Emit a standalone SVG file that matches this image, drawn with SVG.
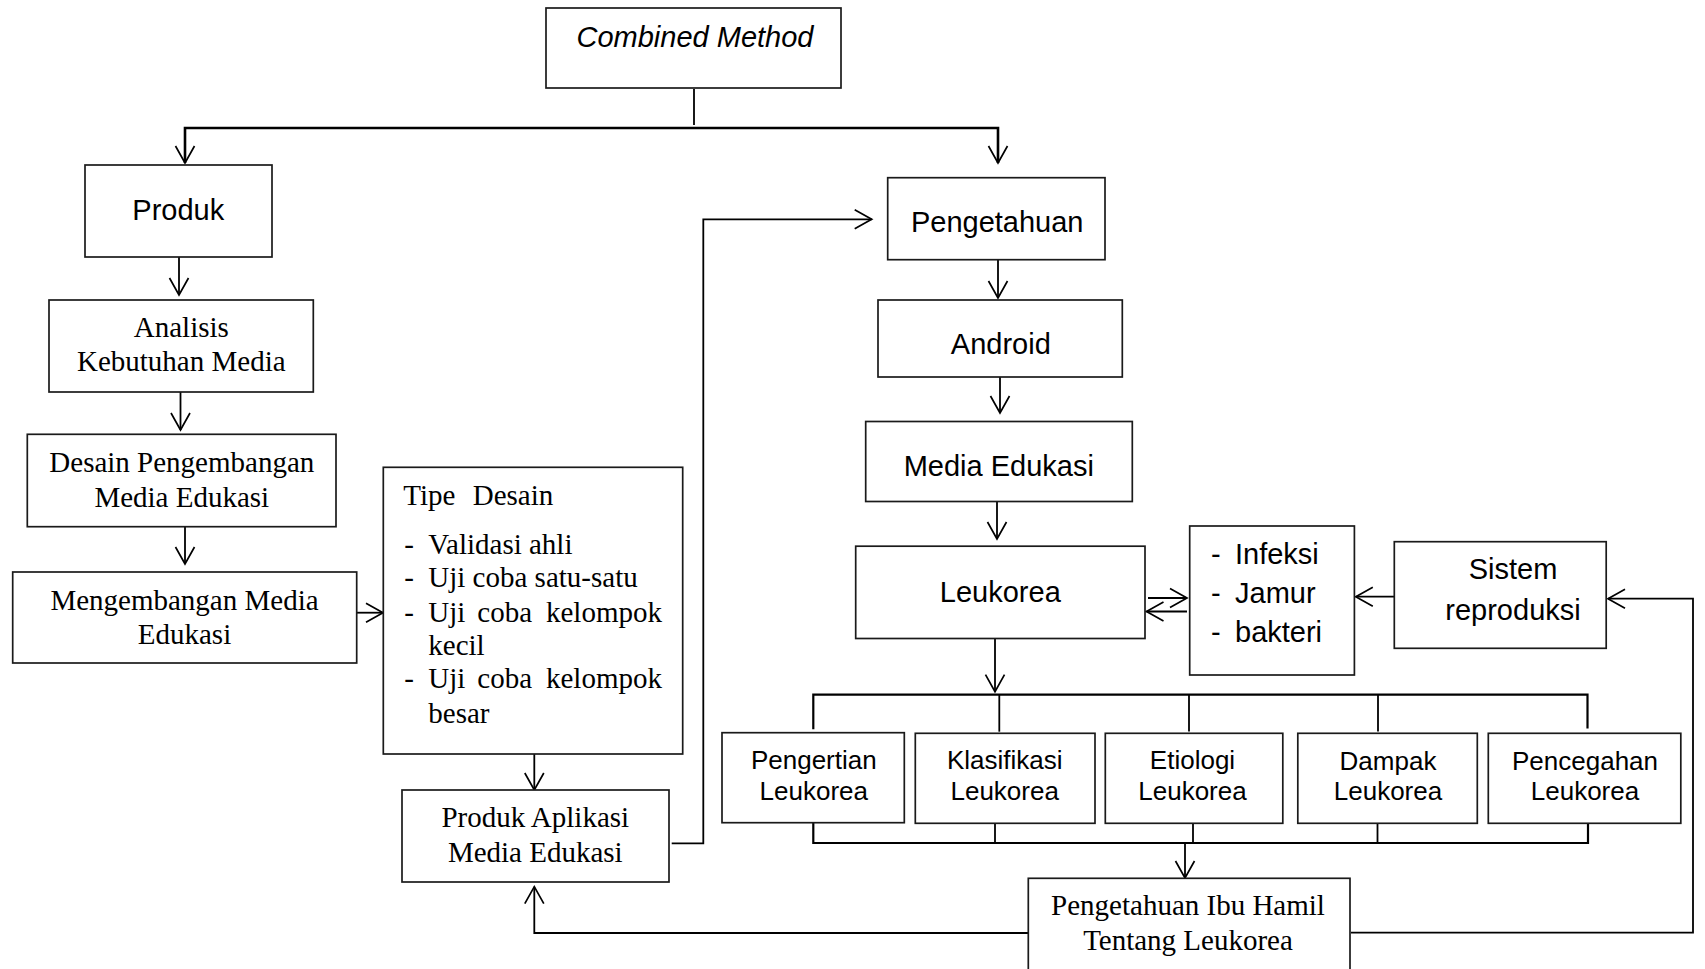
<svg xmlns="http://www.w3.org/2000/svg" width="1705" height="969" viewBox="0 0 1705 969">
<defs>
<style>
.box{fill:#fff;stroke:#1a1a1a;stroke-width:1.7}
.sans{font-family:"Liberation Sans",Arial,sans-serif;font-size:29px;fill:#000}
.sm{font-size:26px}
.serif{font-family:"Liberation Serif","Times New Roman",serif;font-size:29px;fill:#000}
.c{text-anchor:middle}
.ln{fill:none;stroke:#000;stroke-width:1.8}
.thick{stroke-width:2.6}
.arr{marker-end:url(#ah)}
</style>
<marker id="ah" markerUnits="userSpaceOnUse" markerWidth="40" markerHeight="40" refX="0" refY="0" orient="auto" overflow="visible">
<path d="M-17,-9.5 L0,0 L-17,9.5" fill="none" stroke="#000" stroke-width="1.7"/>
</marker>
</defs>
<rect width="1705" height="969" fill="#fff"/>

<g id="connectors">
<line class="ln" x1="694" y1="89" x2="694" y2="125"/>
<polyline class="ln thick" points="185,163 185,128 998,128 998,163"/>
<line class="ln arr" x1="185" y1="140" x2="185" y2="163"/>
<line class="ln arr" x1="998" y1="140" x2="998" y2="163"/>
<line class="ln arr" x1="179" y1="257" x2="179" y2="295"/>
<line class="ln arr" x1="180.5" y1="392" x2="180.5" y2="430"/>
<line class="ln arr" x1="185" y1="527" x2="185" y2="564"/>
<line class="ln arr" x1="357" y1="612.7" x2="383" y2="612.7"/>
<line class="ln arr" x1="534.3" y1="754" x2="534.3" y2="790"/>
<polyline class="ln arr" points="671.7,843.3 703.3,843.3 703.3,219.3 871.7,219.3"/>
<line class="ln arr" x1="998" y1="260" x2="998" y2="298"/>
<line class="ln arr" x1="1000" y1="372" x2="1000" y2="413"/>
<line class="ln arr" x1="997" y1="502" x2="997" y2="539"/>
<line class="ln arr" x1="1148" y1="598" x2="1187" y2="598"/>
<line class="ln arr" x1="1187" y1="611.5" x2="1146.5" y2="611.5"/>
<line class="ln arr" x1="1394" y1="596.7" x2="1355.8" y2="596.7"/>
<line class="ln arr" x1="995" y1="638.5" x2="995" y2="691.7"/>
<polyline class="ln" points="813.3,729.3 813.3,694.7 1587.5,694.7 1587.5,728.5" style="stroke-width:2.2"/>
<line class="ln" x1="999.3" y1="694.7" x2="999.3" y2="731.7"/>
<line class="ln" x1="1189" y1="694.7" x2="1189" y2="731.5"/>
<line class="ln" x1="1378" y1="694.7" x2="1378" y2="731.5"/>
<polyline class="ln" points="813.3,823 813.3,843 1588,843 1588,823.5" style="stroke-width:2.2"/>
<line class="ln" x1="995" y1="823.5" x2="995" y2="843"/>
<line class="ln" x1="1193" y1="823.5" x2="1193" y2="843"/>
<line class="ln" x1="1377.5" y1="823.5" x2="1377.5" y2="843"/>
<line class="ln arr" x1="1185" y1="843" x2="1185" y2="878"/>
<polyline class="ln arr" points="1028.3,933 534.3,933 534.3,886.7"/>
<polyline class="ln arr" points="1351,932.7 1693,932.7 1693,598.7 1608,598.7"/>
</g>

<g id="combined-method">
<rect class="box" x="546" y="8" width="295" height="80"/>
<text class="sans c" x="695" y="46.5" font-style="italic">Combined Method</text>
</g>

<g id="produk">
<rect class="box" x="85" y="165" width="187" height="92"/>
<text class="sans c" x="178.3" y="220">Produk</text>
</g>

<g id="analisis">
<rect class="box" x="49" y="300" width="264.3" height="92"/>
<text class="serif c" x="181.3" y="336.7">Analisis</text>
<text class="serif c" x="181.3" y="370.7">Kebutuhan Media</text>
</g>

<g id="desain">
<rect class="box" x="27.3" y="434.3" width="308.7" height="92.4"/>
<text class="serif c" x="181.8" y="472.3">Desain Pengembangan</text>
<text class="serif c" x="181.8" y="506.7">Media Edukasi</text>
</g>

<g id="mengembangan">
<rect class="box" x="12.7" y="572" width="344" height="91"/>
<text class="serif c" x="184.5" y="609.5">Mengembangan Media</text>
<text class="serif c" x="184.5" y="643.5">Edukasi</text>
</g>

<g id="tipe-desain">
<rect class="box" x="383.3" y="467.3" width="299.4" height="286.7"/>
<text class="serif" y="505"><tspan x="403.3">Tipe</tspan><tspan x="472.7">Desain</tspan></text>
<text class="serif" y="554"><tspan x="404.3">-</tspan><tspan x="428.3">Validasi ahli</tspan></text>
<text class="serif" y="587.3"><tspan x="404.3">-</tspan><tspan x="428.3">Uji coba satu-satu</tspan></text>
<text class="serif" y="621.7"><tspan x="404.3">-</tspan><tspan x="428.3">Uji</tspan><tspan x="477.3">coba</tspan><tspan x="546">kelompok</tspan></text>
<text class="serif" x="428.3" y="655">kecil</text>
<text class="serif" y="688.3"><tspan x="404.3">-</tspan><tspan x="428.3">Uji</tspan><tspan x="477.3">coba</tspan><tspan x="546">kelompok</tspan></text>
<text class="serif" x="428.3" y="722.5">besar</text>
</g>

<g id="produk-aplikasi">
<rect class="box" x="402" y="790" width="267" height="92"/>
<text class="serif c" x="535.3" y="826.7">Produk Aplikasi</text>
<text class="serif c" x="535.3" y="861.7">Media Edukasi</text>
</g>

<g id="pengetahuan">
<rect class="box" x="887.7" y="177.7" width="217.3" height="82"/>
<text class="sans c" x="997.2" y="232">Pengetahuan</text>
</g>

<g id="android">
<rect class="box" x="878" y="300" width="244.3" height="77"/>
<text class="sans c" x="1000.8" y="354">Android</text>
</g>

<g id="media-edukasi">
<rect class="box" x="865.7" y="421.5" width="266.6" height="80"/>
<text class="sans c" x="998.8" y="476">Media Edukasi</text>
</g>

<g id="leukorea">
<rect class="box" x="855.7" y="546.2" width="289.3" height="92.3"/>
<text class="sans c" x="1000.3" y="602">Leukorea</text>
</g>

<g id="infeksi">
<rect class="box" x="1189.7" y="526" width="164.7" height="149"/>
<text class="sans" y="564"><tspan x="1211">-</tspan><tspan x="1235">Infeksi</tspan></text>
<text class="sans" y="602.5"><tspan x="1211">-</tspan><tspan x="1235">Jamur</tspan></text>
<text class="sans" y="642"><tspan x="1211">-</tspan><tspan x="1235">bakteri</tspan></text>
</g>

<g id="sistem">
<rect class="box" x="1394.3" y="541.7" width="211.9" height="106.6"/>
<text class="sans c" x="1513" y="579">Sistem</text>
<text class="sans c" x="1513" y="620">reproduksi</text>
</g>

<g id="pengertian">
<rect class="box" x="722" y="732.7" width="182.3" height="90"/>
<text class="sans sm c" x="813.8" y="769">Pengertian</text>
<text class="sans sm c" x="813.8" y="799.5">Leukorea</text>
</g>

<g id="klasifikasi">
<rect class="box" x="915.3" y="733.3" width="179.7" height="90"/>
<text class="sans sm c" x="1004.7" y="769">Klasifikasi</text>
<text class="sans sm c" x="1004.7" y="799.5">Leukorea</text>
</g>

<g id="etiologi">
<rect class="box" x="1105.3" y="733.3" width="177.5" height="90"/>
<text class="sans sm c" x="1192.5" y="769">Etiologi</text>
<text class="sans sm c" x="1192.5" y="799.5">Leukorea</text>
</g>

<g id="dampak">
<rect class="box" x="1297.8" y="733.3" width="179.5" height="90"/>
<text class="sans sm c" x="1388" y="769.5">Dampak</text>
<text class="sans sm c" x="1388" y="800">Leukorea</text>
</g>

<g id="pencegahan">
<rect class="box" x="1488.3" y="733.3" width="192.5" height="90"/>
<text class="sans sm c" x="1585" y="769.5">Pencegahan</text>
<text class="sans sm c" x="1585" y="800">Leukorea</text>
</g>

<g id="pengetahuan-ibu-hamil">
<rect class="box" x="1028.3" y="878.3" width="321.7" height="100"/>
<text class="serif c" x="1188" y="914.5">Pengetahuan Ibu Hamil</text>
<text class="serif c" x="1188" y="949.5">Tentang Leukorea</text>
</g>
</svg>
